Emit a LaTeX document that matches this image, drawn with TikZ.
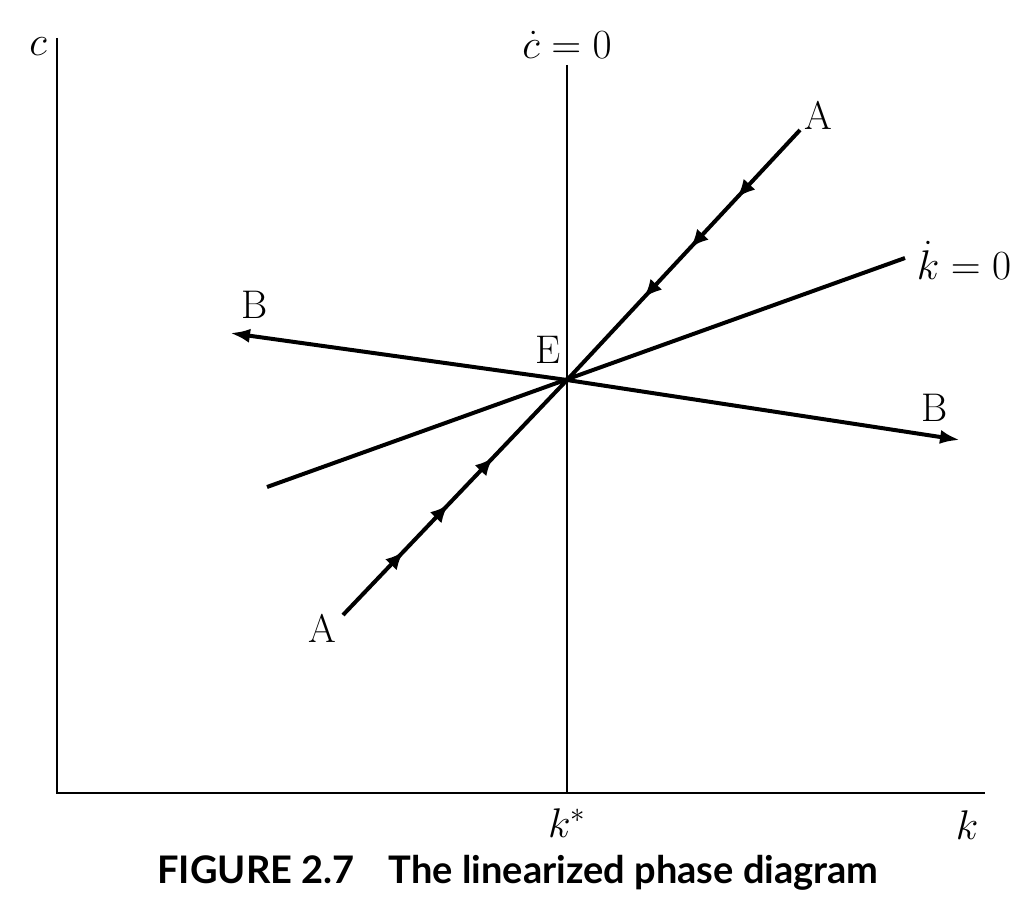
\documentclass[tikz,border=0pt]{standalone}
\usepackage{fontspec}
\newfontfamily\capfont{Lato}
\usetikzlibrary{arrows.meta,decorations.markings}

\tikzset{
  axis/.style={line width=1pt},
  phase/.style={line width=2pt},
  lbl/.style={font=\fontsize{20}{24}\selectfont},
  tip/.style={-{Latex[length=10pt,width=7pt]}},
  midtip/.tip={Latex[length=9pt,width=8pt]},
}

\begin{document}
\begin{tikzpicture}[x=0.5pt,y=-0.5pt]
        \useasboundingbox (0,0) rectangle (1036,920);

        % points
        \coordinate (O)  at (57,793);
        \coordinate (ctop) at (57,38);
        \coordinate (kend) at (985,793);
        \coordinate (E)  at (567,380);
        \coordinate (vtop) at (567,65);
        \coordinate (vbot) at (567,793);
        \coordinate (Alo) at (343,615);
        \coordinate (Ahi) at (800,130);
        \coordinate (Klo) at (267,487);
        \coordinate (Khi) at (905,258);
        \coordinate (Blo) at (230,333);
        \coordinate (Bhi) at (960,440);

        % axes
        \draw[axis] (ctop) -- (O) -- (kend);
        \draw[axis] (vtop) -- (vbot);

        % kdot = 0
        \draw[phase] (Klo) -- (Khi);

        % unstable arm B
        \draw[phase,tip] (E) -- (Blo);
        \draw[phase,tip] (E) -- (Bhi);

        % saddle path A
        \begin{scope}[decoration={markings,
            mark=at position 0.27 with {\arrow{midtip}},
            mark=at position 0.47 with {\arrow{midtip}},
            mark=at position 0.67 with {\arrow{midtip}}}]
          \draw[phase,postaction={decorate}] (Alo) -- (E);
          \draw[phase,postaction={decorate}] (Ahi) -- (E);
        \end{scope}

        % labels
        \begin{scope}[every node/.style={lbl}]
          \node (c)     at (38,47)   {$c$};
          \node (cdot)  at (567,45)  {$\dot{c} = 0$};
          \node (kdot)  at (964,260) {$\dot{k} = 0$};
          \node (kstar) at (567,823) {$k^{*}$};
          \node (k)     at (967,825) {$k$};
          \node (Eh)    at (548,350) {E};
          \node (Aup)   at (818,115) {A};
          \node (Adn)   at (322,628) {A};
          \node (Bl)    at (255,305) {B};
          \node (Br)    at (935,408) {B};
        \end{scope}

        \node (cap) at (518,873) {\capfont\bfseries\fontsize{19}{22}\selectfont FIGURE 2.7\hspace{0.9em}The linearized phase diagram};

      \end{tikzpicture}
\end{document}
